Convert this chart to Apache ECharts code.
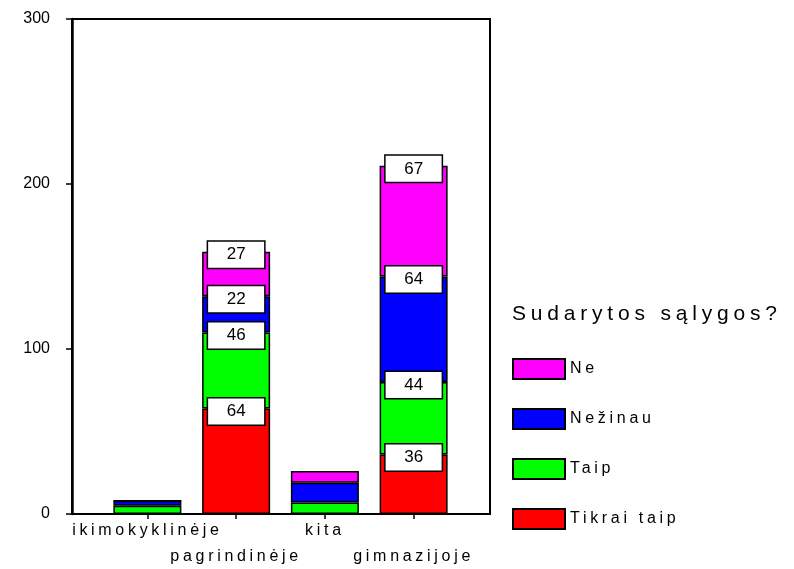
<!DOCTYPE html>
<html>
<head>
<meta charset="utf-8">
<title>Sudarytos sąlygos?</title>
<script src="https://cdn.jsdelivr.net/npm/echarts@6/dist/echarts.min.js"></script>
<style>
  html, body { margin: 0; padding: 0; background: #fff; }
  #chart { width: 794px; height: 569px; }
</style>
</head>
<body>
<div id="chart"></div>
<script>
/* chart data */
let categories = ['ikimokyklinėje', 'pagrindinėje', 'kita', 'gimnazijoje'];
let tikraiTaip = [0, 64, 0, 36];
let taip = [5, 46, 7, 44];
let nezinau = [3, 22, 12, 64];
let ne = [0, 27, 7, 67];
let legendNames = ['Ne', 'Nežinau', 'Taip', 'Tikrai taip'];

const FONT = '"Liberation Sans", Arial, sans-serif';

/*
  the original (SPSS export) draws words with wide letter spacing,
  echarts has no option for it so widen words on the canvas itself.
  numbers are left as they are.
*/
(function () {
  let proto = CanvasRenderingContext2D.prototype;
  let origFillText = proto.fillText;
  proto.fillText = function (text) {
    if (!('letterSpacing' in this)) {
      return origFillText.apply(this, arguments);
    }
    if (/[A-Za-zėąž]/.test(String(text))) {
      let m = /(\d+(?:\.\d+)?)px/.exec(this.font);
      let size = m ? parseFloat(m[1]) : 12;
      this.letterSpacing = (size * 0.23).toFixed(1) + 'px';
    } else {
      this.letterSpacing = '0px';
    }
    let res = origFillText.apply(this, arguments);
    this.letterSpacing = '0px';
    return res;
  };
})();

function makeSeries(name, values, color) {
  let data = [];
  for (let i = 0; i < values.length; i++) {
    data.push({
      value: values[i],
      label: { show: values[i] >= 20 }
    });
  }
  return {
    name: name,
    type: 'bar',
    stack: 'total',
    barWidth: 68,
    data: data,
    itemStyle: {
      color: color,
      borderColor: '#000',
      borderWidth: 1.5
    },
    label: {
      position: 'insideTop',
      distance: 3,
      color: '#000',
      fontFamily: FONT,
      fontSize: 17,
      backgroundColor: '#fff',
      borderColor: '#000',
      borderWidth: 1.5,
      width: 52,
      height: 20,
      align: 'center',
      verticalAlign: 'middle',
      lineHeight: 20,
      padding: [3, 2]
    },
    emphasis: { disabled: true }
  };
}

let myChart = echarts.init(document.getElementById('chart'));

let option = {
  backgroundColor: '#fff',
  animation: false,
  title: {
    text: 'Sudarytos sąlygos?',
    left: 507,
    top: 299,
    textStyle: {
      fontFamily: FONT,
      fontSize: 21,
      fontWeight: 'normal',
      color: '#000'
    }
  },
  legend: {
    orient: 'vertical',
    left: 507,
    top: 353,
    data: legendNames,
    icon: 'rect',
    itemWidth: 52,
    itemHeight: 20,
    itemGap: 28,
    textStyle: {
      fontFamily: FONT,
      fontSize: 16,
      color: '#000'
    },
    selectedMode: false
  },
  grid: [
    /* bars */
    { left: 103, right: 336, top: 19, bottom: 55, containLabel: false, outerBoundsMode: 'none' },
    /* outer frame, wider than the bar area */
    {
      show: true,
      left: 72,
      right: 304,
      top: 19,
      bottom: 55,
      borderColor: '#000',
      borderWidth: 2,
      containLabel: false,
      outerBoundsMode: 'none'
    }
  ],
  xAxis: [
    {
      type: 'category',
      gridIndex: 0,
      data: categories,
      axisLine: { show: true, lineStyle: { color: '#000', width: 2 } },
      axisTick: {
        show: true,
        alignWithLabel: true,
        length: 5,
        lineStyle: { color: '#000', width: 1.5 }
      },
      axisLabel: {
        interval: 0,
        margin: 4,
        fontFamily: FONT,
        fontSize: 16,
        color: '#000',
        lineHeight: 26,
        formatter: function (v, i) {
          /* every second label goes on a lower row */
          return i % 2 === 1 ? '\n' + v : v;
        }
      }
    },
    { type: 'value', gridIndex: 1, show: false }
  ],
  yAxis: [
    {
      type: 'value',
      gridIndex: 0,
      min: 0,
      max: 300,
      interval: 100,
      offset: 31,
      splitLine: { show: false },
      axisLine: { show: true, lineStyle: { color: '#000', width: 2.5 } },
      axisTick: { show: true, length: 6, lineStyle: { color: '#000', width: 1.5 } },
      axisLabel: {
        margin: 22,
        fontFamily: FONT,
        fontSize: 16,
        color: '#000'
      }
    },
    { type: 'value', gridIndex: 1, show: false }
  ],
  series: [
    makeSeries('Tikrai taip', tikraiTaip, '#ff0000'),
    makeSeries('Taip', taip, '#00ff00'),
    makeSeries('Nežinau', nezinau, '#0000ff'),
    makeSeries('Ne', ne, '#ff00ff')
  ]
};

if (option && typeof option === 'object') {
  myChart.setOption(option, true);
}
</script>
</body>
</html>
